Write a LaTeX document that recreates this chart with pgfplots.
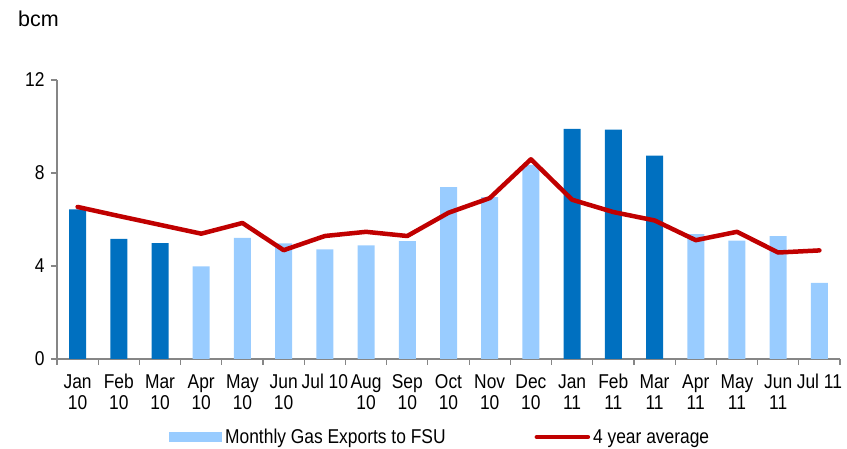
\documentclass[border=0pt]{standalone}
\usepackage{pgfplots}
\pgfplotsset{compat=1.18}
\usepackage{fontspec}
\setmainfont[FakeStretch=0.87]{Liberation Sans}
\newfontfamily\widefont{Liberation Sans}
\definecolor{darkbar}{HTML}{0070C0}
\definecolor{lightbar}{HTML}{99CCFF}
\definecolor{avgred}{HTML}{C00000}
\definecolor{axgray}{HTML}{868686}
\newcommand{\lblfont}{\fontsize{20}{21}\selectfont}
\newcommand{\st}{\rule{0pt}{16pt}}
\begin{document}
\begin{tikzpicture}
\useasboundingbox (-57pt,-90pt) rectangle (790pt,359pt);
\begin{axis}[
  scale only axis,
  width=783pt, height=279pt,
  xmin=-0.5, xmax=18.5,
  ymin=0, ymax=12,
  ytick={0,4,8,12},
  xtick={0,...,18},
  xticklabels={\st Jan\\10,\st Feb\\10,\st Mar\\10,\st Apr\\10,\st May\\10,\st Jun\\10,\st Jul 10,\st Aug\\10,\st Sep\\10,\st Oct\\10,\st Nov\\10,\st Dec\\10,\st Jan\\11,\st Feb\\11,\st Mar\\11,\st Apr\\11,\st May\\11,\st Jun\\11,\st Jul 11},
  minor xtick={-0.5,0.5,...,18.5},
  axis lines*=left,
  axis line style={draw=axgray, line width=1.5pt},
  every tick/.style={draw=axgray, line width=1.2pt},
  tick align=outside,
  major tick length=6pt,
  minor tick length=6pt,
  major x tick style={draw=none},
  xticklabel style={align=center, font=\lblfont, text=black, anchor=north, yshift=-4pt},
  yticklabel style={font=\lblfont, text=black, xshift=-3pt},
  /pgf/number format/assume math mode=true,
  legend columns=2,
  legend style={draw=none, fill=none, at={(0.49,-0.28)}, anchor=center,
    font=\lblfont, nodes={inner xsep=3pt},
    /tikz/every even column/.append style={column sep=86pt}},
  legend cell align=left,
  clip=false,
]
\addplot[ybar, bar width=17pt, bar shift=0pt, fill=lightbar, draw=none,
  legend image code/.code={\fill[lightbar] (0pt,-5pt) rectangle (53pt,5pt);}]
  coordinates {(3,3.98) (4,5.21) (5,4.97) (6,4.71) (7,4.89) (8,5.07) (9,7.39) (10,6.96) (11,8.35) (15,5.37) (16,5.09) (17,5.28) (18,3.27)};
\addlegendentry{Monthly Gas Exports to FSU}
\addplot[ybar, bar width=17pt, bar shift=0pt, fill=darkbar, draw=none, forget plot]
  coordinates {(0,6.44) (1,5.17) (2,4.98) (12,9.90) (13,9.86) (14,8.75)};
\addplot[avgred, line width=4.5pt, line join=round, line cap=round, mark=none,
  legend image code/.code={\draw[avgred, line width=4.5pt, line cap=round] (2pt,0pt) -- (53pt,0pt);}]
  coordinates {(0,6.54) (1,6.15) (2,5.77) (3,5.39) (4,5.85) (5,4.68) (6,5.29) (7,5.47) (8,5.29) (9,6.29) (10,6.92) (11,8.59) (12,6.85) (13,6.32) (14,5.96) (15,5.11) (16,5.47) (17,4.58) (18,4.67)};
\addlegendentry{4 year average}
\end{axis}
\node[anchor=base west, font=\widefont\fontsize{21.5}{24}\selectfont, inner sep=0pt] at (-39pt,332pt) {bcm};
\end{tikzpicture}
\end{document}
